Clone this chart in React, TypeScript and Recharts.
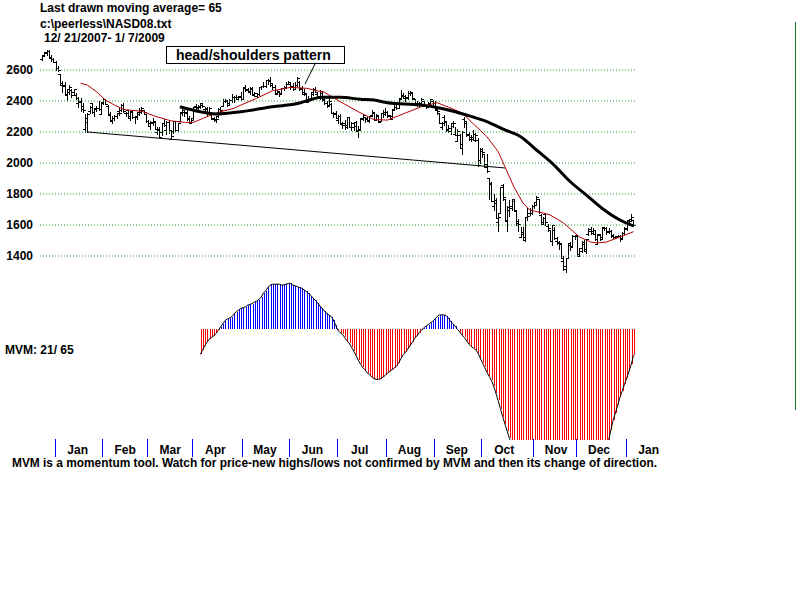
import React from "react";
import {
  Bar,
  ComposedChart,
  Line,
  ReferenceLine,
  XAxis,
  YAxis,
} from "recharts";

const FONT = '"Liberation Sans", Arial, sans-serif';

// daily bars 12/21/2007 .. 1/7/2009 as [open, high, low, close]
const PRICE_OHLC: [number, number, number, number][] = [
  // Dec 2007
  [2670, 2695, 2662, 2692], [2695, 2716, 2690, 2714], [2710, 2728, 2700, 2724],
  [2720, 2726, 2675, 2677], [2685, 2697, 2656, 2674], [2668, 2676, 2650, 2652],
  // Jan
  [2653, 2661, 2597, 2610], [2611, 2624, 2592, 2603], [2571, 2571, 2502, 2505],
  [2515, 2526, 2458, 2499], [2506, 2524, 2440, 2441], [2443, 2475, 2408, 2475],
  [2460, 2504, 2448, 2489], [2469, 2478, 2426, 2440], [2460, 2480, 2447, 2478],
  [2440, 2452, 2416, 2418], [2385, 2428, 2360, 2395], [2398, 2418, 2338, 2347],
  [2369, 2388, 2330, 2340], [2220, 2318, 2202, 2292], [2265, 2320, 2202, 2316],
  [2337, 2370, 2321, 2361], [2385, 2387, 2320, 2326], [2327, 2350, 2303, 2350],
  [2357, 2370, 2337, 2358], [2356, 2397, 2344, 2349], [2318, 2394, 2315, 2390],
  // Feb
  [2392, 2420, 2380, 2413], [2410, 2414, 2380, 2383], [2365, 2374, 2307, 2310],
  [2318, 2330, 2277, 2279], [2270, 2306, 2258, 2293], [2289, 2310, 2278, 2305],
  [2303, 2324, 2290, 2320], [2334, 2355, 2312, 2320], [2340, 2378, 2335, 2374],
  [2372, 2385, 2330, 2333], [2322, 2328, 2305, 2322], [2340, 2345, 2300, 2306],
  [2290, 2332, 2280, 2327], [2337, 2345, 2293, 2300], [2300, 2305, 2260, 2303],
  [2298, 2329, 2282, 2327], [2316, 2358, 2310, 2345], [2330, 2363, 2325, 2354],
  [2340, 2342, 2318, 2332], [2317, 2318, 2265, 2271],
  // Mar
  [2270, 2275, 2243, 2259], [2240, 2268, 2222, 2260], [2265, 2290, 2242, 2273],
  [2265, 2268, 2218, 2220], [2200, 2232, 2184, 2212], [2220, 2235, 2168, 2169],
  [2203, 2256, 2182, 2256], [2260, 2285, 2240, 2244], [2210, 2273, 2185, 2264],
  [2262, 2271, 2195, 2212], [2158, 2205, 2155, 2177], [2206, 2269, 2195, 2268],
  [2268, 2272, 2209, 2210], [2210, 2260, 2204, 2258], [2272, 2330, 2270, 2327],
  [2322, 2348, 2312, 2341], [2330, 2335, 2305, 2324], [2330, 2340, 2279, 2281],
  [2290, 2302, 2258, 2261], [2264, 2286, 2255, 2279],
  // Apr
  [2290, 2363, 2285, 2363], [2365, 2381, 2350, 2362], [2352, 2374, 2344, 2364],
  [2368, 2385, 2352, 2371], [2385, 2390, 2360, 2365], [2350, 2360, 2335, 2349],
  [2355, 2360, 2312, 2322], [2322, 2360, 2315, 2352], [2325, 2332, 2285, 2290],
  [2285, 2296, 2268, 2276], [2283, 2295, 2264, 2286], [2305, 2352, 2300, 2350],
  [2350, 2360, 2327, 2342], [2370, 2410, 2365, 2403], [2400, 2413, 2392, 2408],
  [2403, 2404, 2365, 2377], [2385, 2410, 2373, 2405], [2408, 2445, 2395, 2429],
  [2428, 2433, 2395, 2423], [2423, 2437, 2416, 2424], [2415, 2432, 2410, 2426],
  [2430, 2460, 2408, 2413],
  // May
  [2415, 2481, 2410, 2481], [2490, 2506, 2465, 2477], [2472, 2487, 2462, 2464],
  [2455, 2488, 2444, 2483], [2480, 2490, 2437, 2438], [2445, 2460, 2432, 2451],
  [2430, 2450, 2425, 2446], [2448, 2492, 2440, 2488], [2490, 2500, 2476, 2495],
  [2500, 2522, 2490, 2497], [2497, 2534, 2490, 2534], [2537, 2540, 2512, 2529],
  [2535, 2552, 2500, 2516], [2505, 2510, 2478, 2492], [2492, 2505, 2445, 2448],
  [2452, 2474, 2445, 2465], [2455, 2458, 2435, 2445], [2450, 2485, 2448, 2481],
  [2485, 2495, 2468, 2487], [2490, 2524, 2487, 2508], [2512, 2528, 2508, 2523],
  // Jun
  [2510, 2517, 2475, 2492], [2497, 2517, 2472, 2480], [2478, 2520, 2475, 2503],
  [2505, 2552, 2500, 2550], [2525, 2530, 2474, 2475], [2485, 2495, 2445, 2459],
  [2445, 2475, 2440, 2449], [2445, 2452, 2392, 2394], [2405, 2435, 2397, 2404],
  [2415, 2456, 2410, 2455], [2442, 2482, 2438, 2475], [2480, 2488, 2455, 2458],
  [2448, 2455, 2420, 2430], [2428, 2470, 2415, 2462], [2450, 2455, 2402, 2406],
  [2410, 2418, 2380, 2386], [2385, 2402, 2362, 2368], [2375, 2418, 2370, 2401],
  [2380, 2385, 2320, 2321], [2325, 2330, 2298, 2316], [2320, 2335, 2290, 2293],
  // Jul
  [2275, 2310, 2255, 2305], [2305, 2315, 2251, 2251], [2260, 2265, 2225, 2245],
  [2260, 2280, 2220, 2243], [2235, 2298, 2225, 2294], [2295, 2296, 2235, 2235],
  [2235, 2265, 2215, 2258], [2230, 2260, 2210, 2239], [2262, 2270, 2210, 2213],
  [2205, 2240, 2167, 2216], [2218, 2288, 2210, 2285], [2290, 2318, 2278, 2312],
  [2295, 2298, 2262, 2283], [2290, 2300, 2270, 2280], [2270, 2305, 2262, 2304],
  [2310, 2340, 2305, 2326], [2320, 2325, 2278, 2280], [2280, 2316, 2275, 2311],
  [2305, 2310, 2262, 2264], [2270, 2322, 2268, 2320], [2325, 2340, 2298, 2330],
  [2315, 2352, 2312, 2326],
  // Aug
  [2330, 2335, 2294, 2311], [2305, 2310, 2283, 2286], [2300, 2350, 2298, 2350],
  [2345, 2390, 2340, 2378], [2360, 2380, 2350, 2356], [2358, 2418, 2355, 2414],
  [2418, 2472, 2410, 2440], [2432, 2450, 2420, 2431], [2420, 2440, 2400, 2429],
  [2420, 2465, 2415, 2454], [2450, 2465, 2440, 2453], [2455, 2460, 2410, 2417],
  [2410, 2415, 2380, 2384], [2390, 2400, 2370, 2389], [2375, 2395, 2368, 2380],
  [2390, 2420, 2388, 2415], [2400, 2403, 2365, 2366], [2368, 2375, 2355, 2362],
  [2362, 2395, 2360, 2382], [2390, 2415, 2385, 2412], [2400, 2405, 2365, 2368],
  // Sep
  [2385, 2403, 2340, 2349], [2340, 2350, 2315, 2334], [2320, 2325, 2257, 2259],
  [2230, 2265, 2220, 2256], [2300, 2310, 2245, 2270], [2265, 2272, 2208, 2210],
  [2220, 2245, 2200, 2229], [2205, 2260, 2190, 2258], [2240, 2270, 2235, 2261],
  [2190, 2230, 2178, 2180], [2145, 2220, 2140, 2208], [2180, 2185, 2095, 2099],
  [2120, 2205, 2060, 2199], [2285, 2300, 2230, 2274], [2260, 2265, 2175, 2179],
  [2190, 2200, 2150, 2153], [2165, 2180, 2145, 2156], [2165, 2215, 2160, 2187],
  [2150, 2195, 2140, 2183], [2150, 2160, 1983, 1984], [2020, 2095, 2000, 2092],
  // Oct
  [2080, 2095, 2040, 2069], [2055, 2060, 1975, 1977], [1995, 2060, 1945, 1947],
  [1900, 1905, 1770, 1863], [1870, 1880, 1754, 1755], [1720, 1800, 1700, 1740],
  [1760, 1775, 1645, 1645], [1620, 1670, 1560, 1649], [1680, 1844, 1675, 1844],
  [1860, 1865, 1760, 1779], [1765, 1770, 1628, 1628], [1635, 1720, 1560, 1718],
  [1700, 1760, 1660, 1711], [1720, 1770, 1700, 1770], [1755, 1765, 1690, 1697],
  [1690, 1695, 1600, 1616], [1625, 1640, 1560, 1604], [1525, 1590, 1520, 1552],
  [1545, 1590, 1505, 1506], [1520, 1650, 1500, 1649], [1650, 1710, 1630, 1657],
  [1680, 1710, 1665, 1699], [1680, 1730, 1670, 1721],
  // Nov
  [1720, 1740, 1710, 1726], [1750, 1785, 1735, 1780], [1765, 1770, 1680, 1682],
  [1665, 1670, 1605, 1609], [1620, 1650, 1615, 1647], [1670, 1680, 1600, 1617],
  [1595, 1605, 1560, 1581], [1565, 1570, 1497, 1499], [1500, 1597, 1470, 1597],
  [1570, 1590, 1510, 1517], [1500, 1520, 1480, 1482], [1490, 1500, 1445, 1483],
  [1480, 1485, 1385, 1386], [1370, 1400, 1312, 1316], [1335, 1385, 1295, 1384],
  [1390, 1480, 1385, 1472], [1485, 1490, 1440, 1465], [1460, 1535, 1455, 1532],
  [1530, 1536, 1510, 1536],
  // Dec
  [1530, 1532, 1398, 1398], [1410, 1450, 1400, 1450], [1430, 1495, 1425, 1492],
  [1480, 1505, 1440, 1446], [1435, 1512, 1420, 1509], [1540, 1580, 1535, 1572],
  [1560, 1585, 1540, 1547], [1560, 1580, 1545, 1566], [1545, 1560, 1505, 1508],
  [1480, 1545, 1475, 1541], [1535, 1540, 1505, 1508], [1520, 1590, 1515, 1590],
  [1580, 1590, 1565, 1579], [1580, 1590, 1545, 1552], [1560, 1580, 1550, 1564],
  [1560, 1565, 1520, 1532], [1535, 1545, 1518, 1522], [1525, 1530, 1515, 1525],
  [1527, 1535, 1520, 1530], [1532, 1535, 1500, 1510], [1515, 1552, 1510, 1551],
  [1550, 1585, 1545, 1577],
  // Jan 2009
  [1580, 1635, 1570, 1632], [1625, 1640, 1610, 1628], [1640, 1670, 1630, 1652],
  [1630, 1635, 1595, 1599],
];

const PRICE_TICKS = [1400, 1600, 1800, 2000, 2200, 2400, 2600];

// moving averages: [trading day, value]
const MA21_POINTS: [number, number][] = [
  [17, 2514], [20, 2503], [24, 2460], [28, 2406], [32, 2374], [36, 2345],
  [44, 2334], [50, 2302], [57, 2272], [63, 2262], [67, 2262], [73, 2299],
  [79, 2331], [85, 2353], [88, 2374], [95, 2417], [102, 2466], [110, 2488],
  [117, 2482], [125, 2456], [132, 2396], [140, 2331], [147, 2280], [153, 2277],
  [161, 2323], [168, 2363], [175, 2389], [180, 2360], [186, 2323], [190, 2267],
  [197, 2170], [202, 2074], [205, 1976], [209, 1845], [213, 1742], [216, 1697],
  [222, 1677], [225, 1665], [231, 1613], [238, 1523], [243, 1490], [246, 1484],
  [250, 1490], [256, 1523], [262, 1557],
];

const MA65_POINTS: [number, number][] = [
  [61, 2363], [70, 2331], [77, 2316], [88, 2331], [102, 2363], [114, 2387],
  [117, 2400], [124, 2424], [132, 2424], [141, 2411], [147, 2406], [153, 2389],
  [168, 2374], [176, 2355], [183, 2331], [188, 2310], [197, 2267], [205, 2213],
  [212, 2170], [219, 2084], [226, 1998], [234, 1879], [241, 1794], [248, 1708],
  [256, 1632], [262, 1594],
];

const NECKLINE = [
  { x: 20, y: 2200 },
  { x: 205, y: 1968 },
];

// MVM 21/65, one value per trading day from day 70
const MVM_START = 70;
const MVM_VALUES = [
  -3.1, -2.6, -2.0, -1.6, -1.2, -1.0, -0.8, -0.5, -0.1, 0.3,
  0.7, 1.1, 1.3, 1.4, 1.6, 1.9, 2.2, 2.4, 2.6, 2.7,
  2.8, 3.0, 3.1, 3.2, 3.4, 3.5, 3.7, 4.0, 4.5, 4.8,
  5.2, 5.5, 5.6, 5.6, 5.6, 5.6, 5.5, 5.5, 5.6, 5.7,
  5.7, 5.5, 5.4, 5.3, 5.2, 5.1, 4.9, 4.7, 4.5, 4.2,
  3.9, 3.6, 3.3, 2.9, 2.6, 2.3, 2.0, 1.8, 1.6, 1.2,
  0.5, -0.1, -0.4, -0.6, -1.0, -1.4, -1.7, -2.2, -2.7, -3.2,
  -3.8, -4.3, -4.7, -5.0, -5.4, -5.6, -5.9, -6.1, -6.2, -6.2,
  -6.1, -5.9, -5.7, -5.4, -5.2, -5.0, -4.8, -4.5, -4.1, -3.6,
  -3.1, -2.8, -2.4, -2.0, -1.6, -1.1, -0.8, -0.4, -0.1, 0.2,
  0.4, 0.6, 0.8, 1.0, 1.3, 1.6, 1.8, 1.8, 1.8, 1.7,
  1.4, 1.0, 0.7, 0.4, 0.0, -0.3, -0.7, -1.0, -1.4, -1.8,
  -2.1, -2.3, -2.5, -2.9, -3.5, -4.1, -4.7, -5.3, -5.8, -6.3,
  -7.0, -7.9, -8.8, -9.8, -10.8, -11.7, -12.6, -13.5, -14.3, -15.0,
  -15.6, -16.2, -16.7, -17.1, -17.5, -17.8, -18.0, -18.2, -18.4, -18.6,
  -18.9, -19.1, -19.3, -19.5, -19.6, -19.8, -20.0, -20.1, -20.2, -20.2,
  -20.1, -20.0, -19.8, -19.6, -19.3, -19.0, -18.7, -18.4, -18.1, -17.8,
  -17.5, -17.2, -17.0, -16.7, -16.5, -16.2, -15.8, -15.5, -15.1, -14.7,
  -14.2, -13.7, -12.4, -11.2, -10.3, -9.4, -8.4, -7.6, -6.8, -6.0,
  -5.2, -4.3, -3.2,
];

// first trading day of each month
const MONTH_STARTS = [6, 27, 47, 67, 89, 110, 131, 153, 174, 195, 218, 237, 259];
const MONTH_LABELS = ["Jan", "Feb", "Mar", "Apr", "May", "Jun", "Jul", "Aug", "Sep", "Oct", "Nov", "Dec", "Jan"];

const X_DOMAIN: [number, number] = [-1, 263];
const MARGIN_LEFT = 40;
const MARGIN_RIGHT = 164.2;

const priceRows = PRICE_OHLC.map(([o, h, l, c], i) => ({ i, o, h, l, c, range: [l, h] }));
const ma21Rows = MA21_POINTS.map(([i, v]) => ({ i, v }));
const ma65Rows = MA65_POINTS.map(([i, v]) => ({ i, v }));
const mvmRows = MVM_VALUES.map((v, k) => ({ i: MVM_START + k, v }));
const monthTicks = MONTH_STARTS.map((s) => s - 0.5);

function OhlcShape(props: any) {
  const { x, y, width, height, payload } = props;
  if (!payload || height == null) return null;
  const top = Math.min(y, y + height);
  const h = Math.abs(height);
  const span = payload.h - payload.l;
  const toY = (v: number) => Math.round(top + (span ? ((payload.h - v) / span) * h : 0)) + 0.5;
  const cx = Math.round(x + width / 2) + 0.5;
  return (
    <g stroke="#000" strokeWidth={1} shapeRendering="crispEdges">
      <line x1={cx} x2={cx} y1={Math.round(top)} y2={Math.round(top + h) + 1} />
      <line x1={cx - 2.5} x2={cx} y1={toY(payload.o)} y2={toY(payload.o)} />
      <line x1={cx} x2={cx + 2.5} y1={toY(payload.c)} y2={toY(payload.c)} />
    </g>
  );
}

function MvmShape(props: any) {
  const { x, y, width, height, payload } = props;
  if (!payload || height == null) return null;
  const top = Math.min(y, y + height);
  const h = Math.abs(height);
  return (
    <rect
      x={Math.round(x + width / 2)}
      y={top}
      width={1}
      height={h}
      fill={payload.v >= 0 ? "#0000ff" : "#ff0000"}
      shapeRendering="crispEdges"
    />
  );
}

function MonthTick(props: any) {
  const { x, y, payload } = props;
  const k = monthTicks.indexOf(payload.value);
  const lx = Math.round(x) + 0.5;
  return (
    <g>
      <line x1={lx} x2={lx} y1={y - 1} y2={y + 17} stroke="#0000ff" strokeWidth={1} shapeRendering="crispEdges" />
      <text x={x + 23} y={y + 14} textAnchor="middle" fontFamily={FONT} fontSize={12} fontWeight={700} fill="#000">
        {MONTH_LABELS[k]}
      </text>
    </g>
  );
}

export default function App() {
  const textStyle = { fontFamily: FONT, fontSize: 12, fontWeight: 700, fill: "#000" };
  return (
    <div style={{ position: "absolute", left: 0, top: 0, width: 800, height: 600, background: "#fff" }}>
      <div style={{ position: "absolute", left: 0, top: 0 }}>
        <ComposedChart
          width={800}
          height={300}
          data={priceRows}
          margin={{ top: 39, right: MARGIN_RIGHT, bottom: 13, left: 0 }}
        >
          <XAxis type="number" dataKey="i" domain={X_DOMAIN} hide allowDataOverflow />
          <YAxis
            type="number"
            domain={[1200, 2800]}
            ticks={PRICE_TICKS}
            interval={0}
            width={MARGIN_LEFT}
            axisLine={false}
            tickLine={false}
            tickSize={0}
            tickMargin={7}
            tick={{ fill: "#000", fontSize: 12, fontWeight: 700, fontFamily: FONT }}
          />
          {PRICE_TICKS.map((v) => (
            <ReferenceLine key={v} y={v} stroke="#2f9a2f" strokeDasharray="1 2" />
          ))}
          <ReferenceLine segment={NECKLINE} stroke="#000" strokeWidth={1} ifOverflow="visible" />
          <Bar dataKey="range" barSize={3} shape={OhlcShape} isAnimationActive={false} />
          <Line data={ma21Rows} dataKey="v" type="linear" stroke="#b40000" strokeWidth={1} dot={false} isAnimationActive={false} />
          <Line data={ma65Rows} dataKey="v" type="monotone" stroke="#000" strokeWidth={3} dot={false} isAnimationActive={false} />
        </ComposedChart>
      </div>
      <div style={{ position: "absolute", left: 0, top: 0 }}>
        <ComposedChart
          width={800}
          height={480}
          data={mvmRows}
          margin={{ top: 281, right: MARGIN_RIGHT, bottom: 10, left: MARGIN_LEFT }}
        >
          <XAxis
            type="number"
            dataKey="i"
            domain={X_DOMAIN}
            ticks={monthTicks}
            interval={0}
            height={30}
            axisLine={false}
            tickLine={false}
            tickSize={0}
            tickMargin={0}
            tick={MonthTick}
            allowDataOverflow
          />
          <YAxis hide domain={[-13.7, 6]} allowDataOverflow />
          <Bar dataKey="v" barSize={1} shape={MvmShape} isAnimationActive={false} />
          <Line dataKey="v" type="linear" stroke="#000" strokeWidth={1} dot={false} isAnimationActive={false} />
        </ComposedChart>
      </div>
      <svg width={800} height={600} style={{ position: "absolute", left: 0, top: 0, pointerEvents: "none" }}>
        <text x={40} y={12} {...textStyle}>Last drawn moving average= 65</text>
        <text x={40} y={28} {...textStyle}>c:\peerless\NASD08.txt</text>
        <text x={44} y={42} {...textStyle}>12/ 21/2007- 1/ 7/2009</text>
        <rect x={166.5} y={46.5} width={178} height={17} fill="#fff" stroke="#000" strokeWidth={1} />
        <text x={176} y={60} {...textStyle} fontSize={14}>head/shoulders pattern</text>
        <line x1={315} y1={64} x2={305} y2={84} stroke="#000" strokeWidth={1} />
        <text x={5} y={354} {...textStyle}>MVM: 21/ 65</text>
        <text x={12} y={467} {...textStyle} fontSize={11.9}>
          MVM is a momentum tool. Watch for price-new highs/lows not confirmed by MVM and then its change of direction.
        </text>
        <line x1={795.5} y1={22} x2={795.5} y2={410} stroke="#1e7e1e" strokeWidth={1} />
      </svg>
    </div>
  );
}
